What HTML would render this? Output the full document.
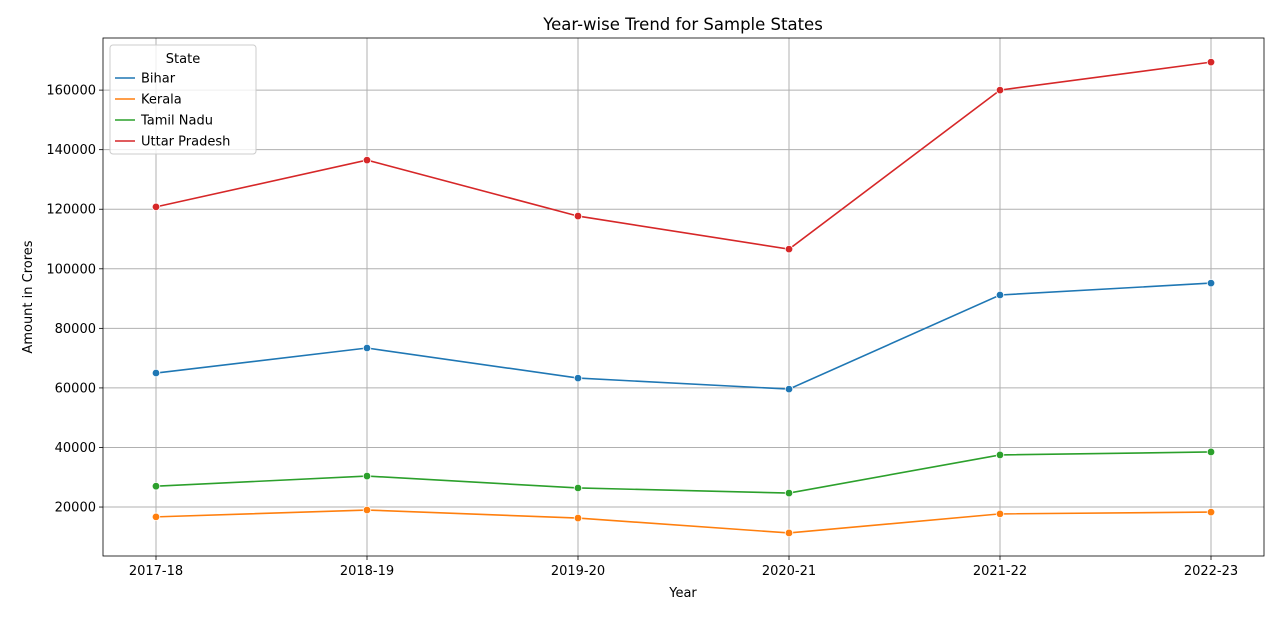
<!DOCTYPE html>
<html><head><meta charset="utf-8"><style>
body{margin:0;background:#fff;font-family:"Liberation Sans","DejaVu Sans",sans-serif;}
svg text{font-family:"DejaVu Sans","Liberation Sans",sans-serif;}
</style></head><body>
<svg id="chart" width="1280" height="616"></svg>
<script>
const categories=["2017-18","2018-19","2019-20","2020-21","2021-22","2022-23"];
const bihar=[65000,73400,63300,59600,91200,95200];
const kerala=[16700,19000,16300,11300,17700,18300];
const tamilNadu=[27000,30400,26400,24700,37500,38500];
const uttarPradesh=[120800,136500,117700,106600,160000,169400];
const yTicks=[20000,40000,60000,80000,100000,120000,140000,160000];
const seriesNames=["Bihar","Kerala","Tamil Nadu","Uttar Pradesh"];
const seriesData=[bihar,kerala,tamilNadu,uttarPradesh];
const colors=["#1f77b4","#ff7f0e","#2ca02c","#d62728"];
const L=103,R=1264,T=38,B=556,yMin=3560,yMax=177500;
const xs=i=>156+i*211;
const ys=v=>B-(v-yMin)/(yMax-yMin)*(B-T);
const svg=document.getElementById('chart');const NS="http://www.w3.org/2000/svg";
function mk(tag,attrs,parent){const e=document.createElementNS(NS,tag);for(const k in attrs)e.setAttribute(k,attrs[k]);(parent||svg).appendChild(e);return e;}
categories.forEach((c,i)=>{
 const g=mk('line',{x1:xs(i),x2:xs(i),y1:T,y2:B,stroke:'#b0b0b0','stroke-width':1});
 
 
 mk('line',{x1:xs(i),x2:xs(i),y1:B,y2:B+4,stroke:'#000','stroke-width':0.8});
 const t=mk('text',{x:xs(i),y:B+19,'text-anchor':'middle','font-size':13});t.textContent=c;
 
 
});
yTicks.forEach(v=>{
 const g=mk('line',{x1:L,x2:R,y1:ys(v),y2:ys(v),stroke:'#b0b0b0','stroke-width':1});
 
 
 mk('line',{x1:L-4,x2:L,y1:ys(v),y2:ys(v),stroke:'#000','stroke-width':0.8});
 const t=mk('text',{x:L-7,y:ys(v)+4.5,'text-anchor':'end','font-size':13});t.textContent=v;
 
 
});
const frame=mk('rect',{x:L,y:T,width:R-L,height:B-T,fill:'none',stroke:'#000','stroke-width':0.8});


seriesData.forEach((d,s)=>{
 const p=mk('polyline',{points:d.map((v,i)=>xs(i)+','+ys(v)).join(' '),fill:'none',stroke:colors[s],'stroke-width':1.6});
 
 
 d.forEach((v,i)=>{const c=mk('circle',{cx:xs(i),cy:ys(v),r:3.8,fill:colors[s],stroke:'#fff','stroke-width':0.8});
 
 });
});
let t=mk('text',{x:683,y:30,'text-anchor':'middle','font-size':16.5});t.textContent="Year-wise Trend for Sample States";


t=mk('text',{x:683,y:597,'text-anchor':'middle','font-size':13});t.textContent="Year";


t=mk('text',{x:32,y:297,'text-anchor':'middle','font-size':13,transform:'rotate(-90 32 297)'});t.textContent="Amount in Crores";


const lg=mk('g',{});


mk('rect',{x:110,y:45,width:146,height:109,rx:3,fill:'#fff','fill-opacity':0.8,stroke:'#ccc'},lg);
t=mk('text',{x:183,y:63,'text-anchor':'middle','font-size':13},lg);t.textContent="State";
seriesNames.forEach((n,s)=>{
 const y=78+s*21;
 mk('line',{x1:115,x2:135,y1:y,y2:y,stroke:colors[s],'stroke-width':1.6},lg);
 const tx=mk('text',{x:141,y:y+4.5,'font-size':13},lg);tx.textContent=n;
 
 
});
</script>
</body></html>
